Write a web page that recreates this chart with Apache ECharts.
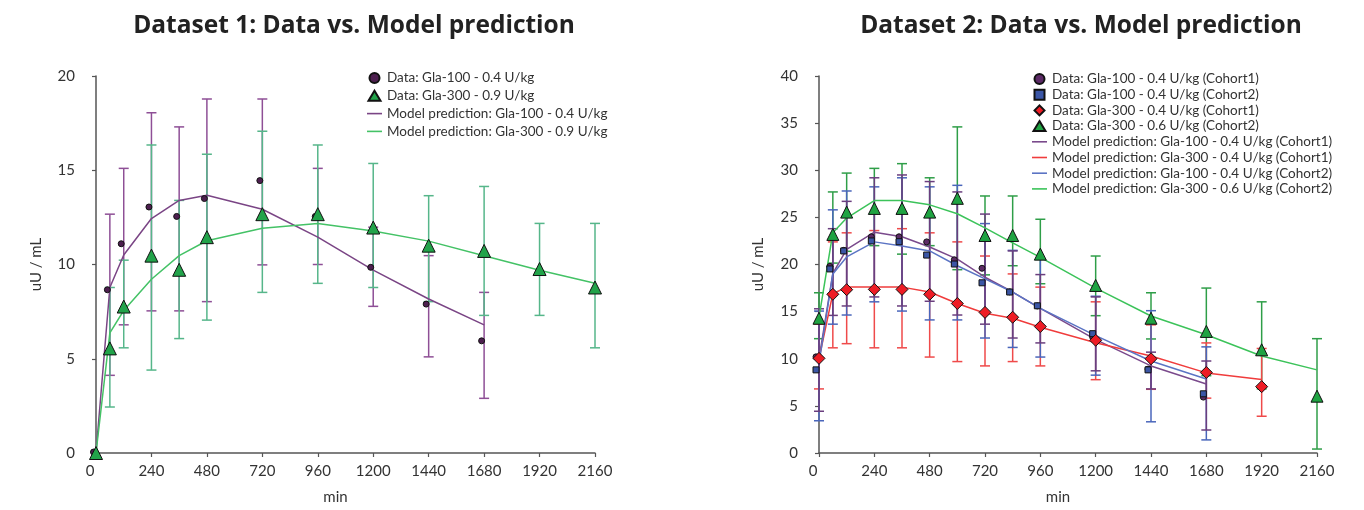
<!DOCTYPE html>
<html>
<head>
<meta charset="utf-8">
<script src="https://cdn.jsdelivr.net/npm/echarts@6/dist/echarts.min.js"></script>
<style>html,body{margin:0;padding:0;background:#fff;}#c{width:1364px;height:510px;}</style>
</head>
<body>
<div id="c"></div>
<script>
// ---------- Dataset 1 ----------
const d1TimesA = [0, 60, 120, 240, 360, 480, 720, 960, 1200, 1440, 1680];
const d1G100Val = [0.05, 8.66, 11.1, 13.05, 12.55, 13.5, 14.45, 12.55, 9.85, 7.9, 5.95];
const d1G100Low = [null, 4.12, 6.8, 7.54, 7.54, 8.03, 9.98, 10.0, 7.78, 5.1, 2.9];
const d1G100High = [null, 12.67, 15.1, 18.05, 17.3, 18.78, 18.78, 15.1, 11.98, 10.47, 8.52];
const d1TimesB = [0, 60, 120, 240, 360, 480, 720, 960, 1200, 1440, 1680, 1920, 2160];
const d1G300Val = [0, 5.55, 7.77, 10.47, 9.72, 11.45, 12.67, 12.67, 11.96, 11.0, 10.72, 9.76, 8.78];
const d1G300Low = [null, 2.44, 5.58, 4.4, 6.07, 7.05, 8.52, 9.0, 8.78, 8.03, 7.3, 7.3, 5.58];
const d1G300High = [null, 8.78, 10.23, 16.34, 13.4, 15.85, 17.07, 16.34, 15.36, 13.65, 14.14, 12.18, 12.18];
const d1ModelG100 = [0, 8.78, 10.5, 12.44, 13.4, 13.67, 12.93, 11.45, 9.7, 8.17, 6.8];
const d1ModelG300 = [0, 6.37, 7.56, 9.22, 10.47, 11.26, 11.92, 12.18, 11.78, 11.24, 10.46, 9.7, 9.0];

// ---------- Dataset 2 ----------
const d2Times = [0, 60, 120, 240, 360, 480, 600, 720, 840, 960, 1200, 1440, 1680, 1920, 2160];
const d2G100C1Val = [10.2, 19.8, 21.5, 22.94, 22.94, 22.4, 20.5, 19.6, 17.1, 15.6, 12.3, 8.9, 5.93];
const d2G100C1Low = [4.43, 14.6, 15.6, 16.56, 15.6, 16.1, 14.64, 13.67, 12.2, 11.68, 8.72, 6.8, 2.44];
const d2G100C1High = [15.3, 23.8, 26.7, 29.2, 29.5, 28.8, 27.7, 25.35, 21.44, 18.93, 16.56, 10.7, 9.76];
const d2G100C2Val = [8.82, 19.53, 21.44, 22.5, 22.42, 21.0, 20.05, 18.06, 17.08, 15.62, 12.66, 8.82, 6.28];
const d2G100C2Low = [3.42, 13.67, 14.64, 16.04, 15.06, 14.12, 14.12, 12.2, 11.2, 10.18, 8.26, 3.31, 1.39];
const d2G100C2High = [15.06, 25.8, 27.8, 28.24, 29.2, 28.24, 28.4, 24.34, 21.5, 20.6, 16.63, 15.1, 11.26];
const d2G300C1Val = [10.04, 16.84, 17.33, 17.36, 17.36, 16.84, 15.86, 14.92, 14.4, 13.42, 11.96, 10.0, 8.54, 7.04];
const d2G300C1Low = [6.8, 11.16, 11.6, 11.16, 11.16, 10.18, 9.7, 9.24, 9.7, 9.24, 7.78, 6.76, 5.82, 3.9];
const d2G300C1High = [13.67, 22.4, 23.36, 23.6, 23.8, 23.36, 22.4, 20.9, 19.0, 17.6, 16.04, 13.6, 11.68, 11.09];
const d2G300C2Val = [14.3, 23.19, 25.56, 25.95, 25.95, 25.56, 27.02, 23.08, 23.08, 21.1, 17.78, 14.3, 12.9, 10.95, 6.03];
const d2G300C2Low = [12.13, 20.15, 21.4, 22.0, 21.1, 22.0, 19.45, 18.9, 19.87, 17.96, 14.57, 12.1, 8.2, 6.8, 0.42];
const d2G300C2High = [17.0, 27.7, 29.7, 30.2, 30.7, 29.2, 34.6, 27.27, 27.27, 24.8, 20.9, 17.0, 17.5, 16.04, 12.13];
const d2ModelG100C1 = [10.0, 19.07, 21.6, 23.43, 22.94, 21.86, 20.57, 18.65, 17.08, 15.34, 12.03, 9.24, 7.32];
const d2ModelG300C1 = [10.0, 16.9, 17.6, 17.6, 17.6, 17.08, 15.86, 14.82, 14.3, 13.35, 11.7, 10.29, 8.5, 7.8];
const d2ModelG100C2 = [9.5, 19.0, 20.8, 22.4, 21.97, 21.44, 19.87, 18.48, 17.08, 15.34, 12.45, 9.76, 7.85];
const d2ModelG300C2 = [14.4, 23.36, 24.93, 26.78, 26.78, 26.33, 25.38, 23.89, 22.3, 20.75, 17.5, 14.54, 12.55, 10.29, 8.82];

const xTicks = [0, 240, 480, 720, 960, 1200, 1440, 1680, 1920, 2160];

function pairs(t, v) { return v.map((y, i) => [t[i], y]); }
function bars(t, lo, hi) {
  const out = [];
  lo.forEach((l, i) => { if (l != null && hi[i] != null) out.push([t[i], l, hi[i]]); });
  return out;
}
function errSeries(name, data, color, gi) {
  return {
    name: name, type: 'custom', xAxisIndex: gi, yAxisIndex: gi, z: 2,
    encode: { x: 0, y: [1, 2] },
    data: data, silent: true,
    renderItem: function (params, api) {
      const p1 = api.coord([api.value(0), api.value(1)]);
      const p2 = api.coord([api.value(0), api.value(2)]);
      const w = 5;
      const st = { stroke: color, lineWidth: 1.5, fill: null };
      return { type: 'group', children: [
        { type: 'line', shape: { x1: p1[0], y1: p1[1], x2: p2[0], y2: p2[1] }, style: st },
        { type: 'line', shape: { x1: p1[0] - w, y1: p1[1], x2: p1[0] + w, y2: p1[1] }, style: st },
        { type: 'line', shape: { x1: p2[0] - w, y1: p2[1], x2: p2[0] + w, y2: p2[1] }, style: st }
      ]};
    }
  };
}
function lineSeries(name, data, color, gi) {
  return { name: name, type: 'line', xAxisIndex: gi, yAxisIndex: gi, z: 3, data: data,
    symbol: 'none', lineStyle: { color: color, width: 1.5 }, itemStyle: { color: color }, animation: false };
}
function scatSeries(name, data, symbol, size, fill, gi, offset) {
  return { name: name, type: 'scatter', xAxisIndex: gi, yAxisIndex: gi, z: 5, data: data,
    symbol: symbol, symbolSize: size, symbolOffset: offset || [0, 0],
    itemStyle: { color: fill, borderColor: '#111', borderWidth: 1, opacity: 1 }, animation: false };
}

const FONT = 'Lato';
const axisCommon = {
  axisLine: { lineStyle: { color: '#555', width: 1.5 } },
  axisTick: { show: true, length: 4, lineStyle: { color: '#555', width: 1.2 } },
  splitLine: { show: false },
  axisLabel: { color: '#333', fontSize: 15, fontFamily: FONT }
};
function xAxis(gi) {
  return Object.assign({}, axisCommon, {
    type: 'value', gridIndex: gi, min: 0, max: 2160, interval: 240,
    name: 'min', nameLocation: 'middle', nameGap: 37,
    nameTextStyle: { color: '#333', fontSize: 15, fontFamily: FONT, padding: [0, 20, 0, 0] },
    axisLabel: Object.assign({}, axisCommon.axisLabel, { margin: 11,
      formatter: v => v === 0 ? '{z|0}' : (xTicks.indexOf(v) >= 0 ? String(v) : ''),
      rich: { z: { fontSize: 15, fontFamily: FONT, color: '#333', padding: [0, 12, 0, 0] } } })
  });
}
function yAxis(gi, max, gap) {
  return Object.assign({}, axisCommon, {
    type: 'value', gridIndex: gi, min: 0, max: max, interval: 5,
    name: 'uU / mL', nameLocation: 'middle', nameGap: gap, nameRotate: 90,
    nameTextStyle: { color: '#333', fontSize: 15, fontFamily: FONT },
    axisLabel: Object.assign({}, axisCommon.axisLabel, { margin: 21 })
  });
}

const n1a = 'Data: Gla-100 - 0.4 U/kg', n1b = 'Data: Gla-300 - 0.9 U/kg';
const n1c = 'Model prediction: Gla-100 - 0.4 U/kg', n1d = 'Model prediction: Gla-300 - 0.9 U/kg';
const n2a = 'Data: Gla-100 - 0.4 U/kg (Cohort1)', n2b = 'Data: Gla-100 - 0.4 U/kg (Cohort2)';
const n2c = 'Data: Gla-300 - 0.4 U/kg (Cohort1)', n2d = 'Data: Gla-300 - 0.6 U/kg (Cohort2)';
const n2e = 'Model prediction: Gla-100 - 0.4 U/kg (Cohort1)', n2f = 'Model prediction: Gla-300 - 0.4 U/kg (Cohort1)';
const n2g = 'Model prediction: Gla-100 - 0.4 U/kg (Cohort2)', n2h = 'Model prediction: Gla-300 - 0.6 U/kg (Cohort2)';

const LINE_ICON = 'path://M0,0 L15,0 L15,1.6 L0,1.6 Z';
const SQ_ICON = 'path://M0,0 L9,0 L9,9 L0,9 Z';
const TRI_ICON = 'path://M6,0 L12,10 L0,10 Z';
const DIA_ICON = 'path://M6,0 L12,6 L6,12 L0,6 Z';
const CIR_ICON = 'circle';
const legendText = { color: '#333', fontSize: 13.5, fontFamily: FONT, lineHeight: 13.5 };
function li(name, icon) { return { name: name, icon: icon || LINE_ICON }; }

const option = {
  animation: false,
  backgroundColor: '#fff',
  title: [
    { text: 'Dataset 1: Data vs. Model prediction', left: 349, top: 9, textAlign: 'center',
      textStyle: { fontFamily: 'Open Sans', fontWeight: 'bold', fontSize: 24.5, color: '#222' } },
    { text: 'Dataset 2: Data vs. Model prediction', left: 1076, top: 9, textAlign: 'center',
      textStyle: { fontFamily: 'Open Sans', fontWeight: 'bold', fontSize: 24.5, color: '#222' } }
  ],
  grid: [
    { left: 96, right: 769, top: 76, bottom: 52 },
    { left: 819, right: 47, top: 76, bottom: 52 }
  ],
  xAxis: [xAxis(0), xAxis(1)],
  yAxis: [yAxis(0, 20, 52), yAxis(1, 40, 53)],
  legend: [
    { orient: 'vertical', left: 362, top: 66, itemWidth: 15, itemHeight: 10, itemGap: 3.8,
      textStyle: legendText, data: [li(n1a, CIR_ICON), li(n1b, TRI_ICON), li(n1c), li(n1d)] },
    { orient: 'vertical', left: 1027, top: 67, itemWidth: 15, itemHeight: 10, itemGap: 1.7,
      textStyle: legendText,
      data: [li(n2a, CIR_ICON), li(n2b, SQ_ICON), li(n2c, DIA_ICON), li(n2d, TRI_ICON), li(n2e), li(n2f), li(n2g), li(n2h)] }
  ],
  series: [
    // Dataset 1
    errSeries('e1a', bars(d1TimesA, d1G100Low, d1G100High), '#8e4f96', 0),
    errSeries('e1b', bars(d1TimesB, d1G300Low, d1G300High), '#56b68a', 0),
    lineSeries(n1c, pairs(d1TimesA, d1ModelG100), '#7a4585', 0),
    lineSeries(n1d, pairs(d1TimesB, d1ModelG300), '#44c266', 0),
    scatSeries(n1a, pairs(d1TimesA, d1G100Val), 'circle', 6, '#4d1f4f', 0, [-2.5, 0]),
    scatSeries(n1b, pairs(d1TimesB, d1G300Val), 'triangle', 13, '#22a34a', 0),
    // Dataset 2
    errSeries('e2d', bars(d2Times, d2G300C2Low, d2G300C2High), '#2f9e48', 1),
    errSeries('e2c', bars(d2Times, d2G300C1Low, d2G300C1High), '#ef4a4a', 1),
    errSeries('e2b', bars(d2Times, d2G100C2Low, d2G100C2High), '#4a66bb', 1),
    errSeries('e2a', bars(d2Times, d2G100C1Low, d2G100C1High), '#6a3e7e', 1),
    lineSeries(n2e, pairs(d2Times, d2ModelG100C1), '#7a4a8c', 1),
    lineSeries(n2f, pairs(d2Times, d2ModelG300C1), '#f03c3c', 1),
    lineSeries(n2g, pairs(d2Times, d2ModelG100C2), '#5b74c4', 1),
    lineSeries(n2h, pairs(d2Times, d2ModelG300C2), '#3cc35a', 1),
    scatSeries(n2a, pairs(d2Times, d2G100C1Val), 'circle', 6, '#5c2a66', 1, [-3, 0]),
    scatSeries(n2b, pairs(d2Times, d2G100C2Val), 'rect', 6, '#3b56a6', 1, [-3, 0]),
    scatSeries(n2c, pairs(d2Times, d2G300C1Val), 'diamond', 12, '#ee1c25', 1),
    scatSeries(n2d, pairs(d2Times, d2G300C2Val), 'triangle', 12, '#1fa342', 1)
  ]
};
const chart = echarts.init(document.getElementById('c'), null, { renderer: 'canvas' });
chart.setOption(option);
</script>
</body>
</html>
